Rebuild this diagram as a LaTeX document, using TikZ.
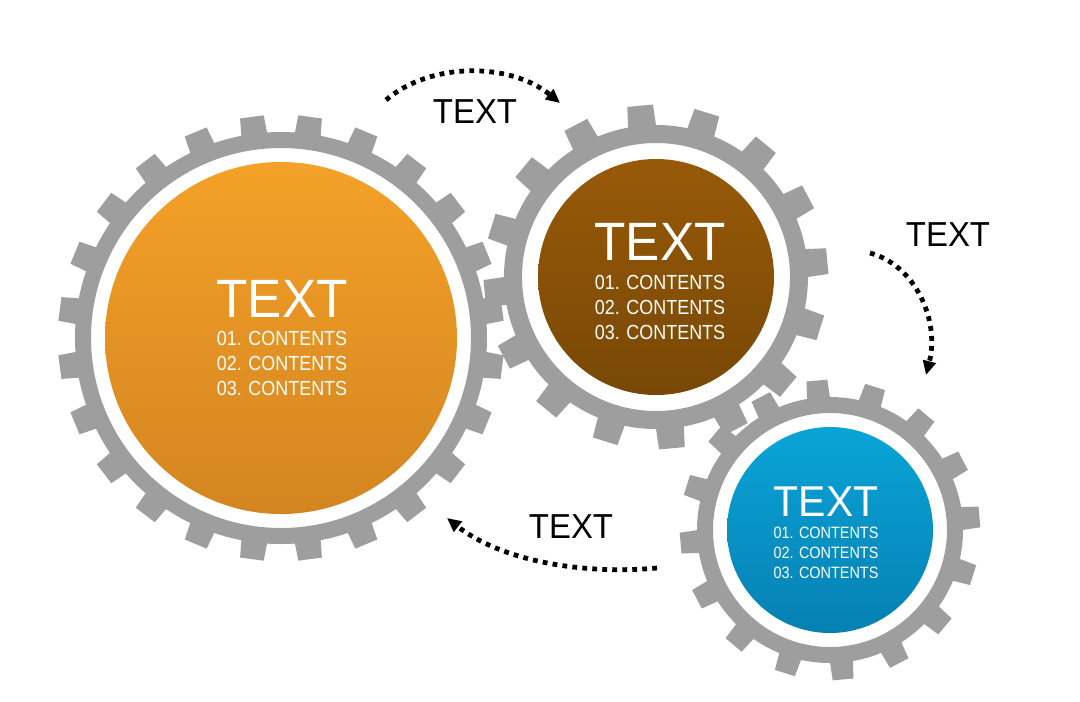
\documentclass[tikz,border=0pt]{standalone}
\usepackage{fontspec}
\setmainfont{Liberation Sans}
\newfontfamily\condtitle[FakeStretch=0.95]{Liberation Sans}
\newfontfamily\conditems[FakeStretch=0.88]{Liberation Sans}
\usetikzlibrary{arrows.meta,calc}
\definecolor{gearg}{RGB}{158,158,158}
\definecolor{orgtop}{RGB}{244,161,40}
\definecolor{orgbot}{RGB}{211,133,32}
\definecolor{brntop}{RGB}{152,90,8}
\definecolor{brnbot}{RGB}{120,72,6}
\definecolor{blutop}{RGB}{10,164,215}
\definecolor{blubot}{RGB}{6,128,178}
\newcommand\gearteeth[7]{% #1 center, #2 rin, #3 rout, #4 rtip, #5 tooth width, #6 count, #7 offset
  \fill[gearg,even odd rule] (#1) circle[radius=#3] (#1) circle[radius=#2];
  \foreach \k in {1,...,#6}{
    \fill[gearg, shift={(#1)}, rotate={#7+\k*360/#6}]
      (#3-3,-#5/2-0.6) -- (#4,-#5/2+0.6) -- (#4,#5/2-0.6) -- (#3-3,#5/2+0.6) -- cycle;
  }
}
\tikzset{
  disc/.style={circle, inner sep=0pt, draw=none},
  bigtitle/.style={text=white, inner sep=0pt, font=\condtitle\fontsize{40.5}{42}\selectfont},
  bigitems/.style={text=white, inner sep=0pt, align=center, font=\conditems\fontsize{15.3}{18.75}\selectfont},
  smalltitle/.style={text=white, inner sep=0pt, font=\condtitle\fontsize{32.3}{34}\selectfont},
  smallitems/.style={text=white, inner sep=0pt, align=center, font=\conditems\fontsize{12.3}{15}\selectfont},
  label/.style={text=black, inner sep=0pt, font=\condtitle\fontsize{26}{28}\selectfont},
  dotarrow/.style={line width=3.6pt, dash pattern=on 3.6pt off 3.9pt, -{Triangle[length=10.5pt,width=9.5pt]}}
}
\begin{document}
\begin{tikzpicture}[x=0.75pt,y=-0.75pt]
\useasboundingbox (0,0) rectangle (1080,701);
\fill[white] (0,0) rectangle (1080,701);
\coordinate (c1) at (281,338);
\coordinate (c2) at (656,277);
\coordinate (c3) at (830,530);
% gear 1
\gearteeth{c1}{190}{206}{223}{25}{24}{7.5}
\node[disc, minimum size=264pt, top color=orgtop, bottom color=orgbot] (g1) at (c1) {};
% gear 2
\gearteeth{c2}{134}{152}{172}{27}{16}{5.3}
\node[disc, minimum size=177pt, top color=brntop, bottom color=brnbot] (g2) at (c2) {};
% gear 3
\gearteeth{c3}{117}{133}{150}{22}{16}{5}
\node[disc, minimum size=154.5pt, top color=blutop, bottom color=blubot] (g3) at (c3) {};
% texts in gears
\node[bigtitle] (t1) at (282,299) {TEXT};
\node[bigitems] (i1) at (282,363) {01. CONTENTS\\02. CONTENTS\\03. CONTENTS};
\node[bigtitle] (t2) at (660,242) {TEXT};
\node[bigitems] (i2) at (660,307) {01. CONTENTS\\02. CONTENTS\\03. CONTENTS};
\node[smalltitle] (t3) at (826,502) {TEXT};
\node[smallitems] (i3) at (826,553) {01. CONTENTS\\02. CONTENTS\\03. CONTENTS};
% labels
\node[label] (l1) at (475,112) {TEXT};
\node[label] (l2) at (948,235) {TEXT};
\node[label] (l3) at (571,527) {TEXT};
% arrows
\coordinate (a1s) at (386,100);
\coordinate (a1e) at (560,103);
\coordinate (a2s) at (870,253);
\coordinate (a2e) at (926,375);
\coordinate (a3s) at (657,568);
\coordinate (a3e) at (447,518);
\draw[dotarrow] (a1s) .. controls (430,62) and (510,62) .. (a1e);
\draw[dotarrow] (a2s) .. controls (915,265) and (940,320) .. (a2e);
\draw[dotarrow] (a3s) .. controls (580,575) and (500,560) .. (a3e);
\end{tikzpicture}
\end{document}
